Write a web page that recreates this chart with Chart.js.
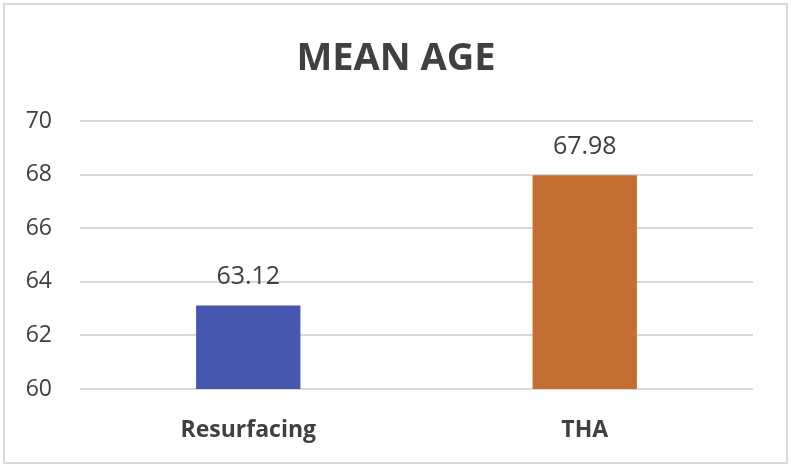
<!DOCTYPE html>
<html>
<head>
<meta charset="utf-8">
<script src="https://cdn.jsdelivr.net/npm/chart.js@4"></script>
<style>
  html, body { margin: 0; padding: 0; background: #fff; }
  #wrap { width: 791px; height: 467px; }
</style>
</head>
<body>
<div id="wrap"><canvas id="chart" width="791" height="467"></canvas></div>
<script>
// Chart data
const categories = ['Resurfacing', 'THA'];
const meanAge = [63.12, 67.98];
const barColors = ['#4757b0', '#c46e31'];
const titleText = 'MEAN AGE';
const yMin = 60, yMax = 70, yStep = 2;

const textColor = '#404040';
const fontFamily = '"Open Sans", "Noto Sans", sans-serif';

// Frame + title drawn by hand (Excel-style)
const framePlugin = {
    id: 'frame',
    beforeDraw(chart) {
        const ctx = chart.ctx;
        ctx.save();
        ctx.fillStyle = '#fff';
        ctx.fillRect(0, 0, chart.width, chart.height);
        ctx.strokeStyle = '#d9d9d9';
        ctx.lineWidth = 2;
        ctx.strokeRect(4, 4, chart.width - 8, chart.height - 8);
        ctx.restore();
    },
    afterDraw(chart) {
        const ctx = chart.ctx;
        ctx.save();
        ctx.fillStyle = textColor;
        ctx.font = 'bold 38px ' + fontFamily;
        ctx.textAlign = 'center';
        ctx.textBaseline = 'alphabetic';
        ctx.fillText(titleText, 396, 70);
        ctx.restore();
    }
};

// Value labels above bars
const valueLabels = {
    id: 'valueLabels',
    afterDatasetsDraw(chart) {
        const ctx = chart.ctx;
        const meta = chart.getDatasetMeta(0);
        ctx.save();
        ctx.fillStyle = textColor;
        ctx.font = '25px ' + fontFamily;
        ctx.textAlign = 'center';
        ctx.textBaseline = 'alphabetic';
        meta.data.forEach((bar, i) => {
            ctx.fillText(meanAge[i].toFixed(2), bar.x, bar.y - 21);
        });
        ctx.restore();
    }
};

new Chart(document.getElementById('chart'), {
    type: 'bar',
    data: {
        labels: categories,
        datasets: [{
            data: meanAge,
            backgroundColor: barColors,
            borderWidth: 0,
            barPercentage: 0.31,
            categoryPercentage: 1
        }]
    },
    options: {
        responsive: false,
        animation: false,
        layout: { padding: { top: 121, right: 38, left: 0, bottom: 0 } },
        plugins: {
            legend: { display: false },
            tooltip: { enabled: false }
        },
        scales: {
            x: {
                grid: { display: false },
                border: { display: false },
                ticks: {
                    color: textColor,
                    font: { family: fontFamily, size: 23, weight: 'bold' },
                    padding: 20
                },
                afterFit(scale) { scale.height = 78; }
            },
            y: {
                min: yMin,
                max: yMax,
                ticks: {
                    stepSize: yStep,
                    color: textColor,
                    font: { family: fontFamily, size: 23 },
                    padding: 28
                },
                grid: { color: '#d9d9d9', lineWidth: 2, drawTicks: false },
                border: { display: false },
                afterFit(scale) { scale.width = 80; }
            }
        }
    },
    plugins: [framePlugin, valueLabels]
});
</script>
</body>
</html>
